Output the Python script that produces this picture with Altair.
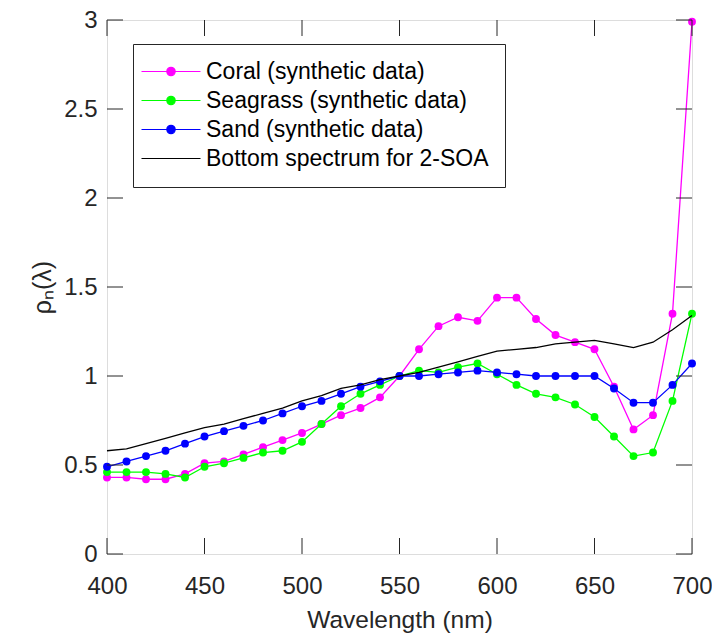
import altair as alt
import pandas as pd

wavelength = list(range(400, 701, 10))
coral = [0.43, 0.43, 0.42, 0.42, 0.45, 0.51, 0.52, 0.56, 0.60, 0.64, 0.68, 0.73, 0.78, 0.82, 0.88, 1.00,
         1.15, 1.28, 1.33, 1.31, 1.44, 1.44, 1.32, 1.23, 1.19, 1.15, 0.94, 0.70, 0.78, 1.35, 2.99]
seagrass = [0.46, 0.46, 0.46, 0.45, 0.43, 0.49, 0.51, 0.54, 0.57, 0.58, 0.63, 0.73, 0.83, 0.90, 0.95, 1.00,
            1.03, 1.02, 1.05, 1.07, 1.01, 0.95, 0.90, 0.88, 0.84, 0.77, 0.66, 0.55, 0.57, 0.86, 1.35]
sand = [0.49, 0.52, 0.55, 0.58, 0.62, 0.66, 0.69, 0.72, 0.75, 0.79, 0.83, 0.86, 0.90, 0.94, 0.97, 1.00,
        1.00, 1.01, 1.02, 1.03, 1.02, 1.01, 1.00, 1.00, 1.00, 1.00, 0.93, 0.85, 0.85, 0.95, 1.07]
bottom = [0.58, 0.59, 0.62, 0.65, 0.68, 0.71, 0.73, 0.76, 0.79, 0.82, 0.86, 0.89, 0.93, 0.95, 0.98, 1.00,
          1.02, 1.05, 1.08, 1.11, 1.14, 1.15, 1.16, 1.18, 1.19, 1.20, 1.18, 1.16, 1.19, 1.26, 1.34]

series_names = ["Coral (synthetic data)", "Seagrass (synthetic data)",
                "Sand (synthetic data)", "Bottom spectrum for 2-SOA"]
series_values = [coral, seagrass, sand, bottom]
series_markers = [True, True, True, False]
colors = ["#FF00FF", "#00FF00", "#0000FF", "#000000"]

x_ticks = [400, 450, 500, 550, 600, 650, 700]
y_ticks = [0, 0.5, 1, 1.5, 2, 2.5, 3]

FONT = "Liberation Sans"
AX = "#262626"
W, H = 585, 534
TICK = 16

rows = []
for name, vals in zip(series_names, series_values):
    for w, v in zip(wavelength, vals):
        rows.append({"wavelength": w, "rho": v, "series": name})
df = pd.DataFrame(rows)

xs = alt.Scale(domain=[400, 700], nice=False, zero=False)
ys = alt.Scale(domain=[0, 3], nice=False, zero=False)

xaxis = alt.Axis(values=x_ticks, title="Wavelength (nm)", grid=False, ticks=False, domain=False,
                 labelFont=FONT, labelFontSize=24, labelColor=AX, labelPadding=20,
                 labelFlush=False, labelOverlap=False, format="d",
                 titleFont=FONT, titleFontSize=24.5, titleFontWeight="normal", titleColor=AX,
                 titleY=73, titleBaseline="alphabetic")
yaxis = alt.Axis(values=y_ticks, title="ρₙ(λ)", grid=False, ticks=False, domain=False,
                 labelFont=FONT, labelFontSize=24, labelColor=AX, labelPadding=10,
                 labelFlush=False, labelOverlap=False, format="~g",
                 titleFont=FONT, titleFontSize=25, titleFontWeight="normal", titleColor=AX,
                 titleX=-65, titleY=H / 2, titleAngle=270, titleAlign="center", titleBaseline="middle")


def X():
    return alt.X("wavelength:Q", scale=xs, axis=xaxis)


def Y():
    return alt.Y("rho:Q", scale=ys, axis=yaxis)


layers = []
for name, col, mk in zip(series_names, colors, series_markers):
    sub = df[df["series"] == name]
    layers.append(alt.Chart(sub).mark_line(color=col, strokeWidth=1.3).encode(x=X(), y=Y()))
    if mk:
        layers.append(alt.Chart(sub).mark_circle(color=col, size=62, opacity=1).encode(x=X(), y=Y()))

# inward ticks on all four sides
xt = pd.DataFrame({"wavelength": x_ticks})
yt = pd.DataFrame({"rho": y_ticks})
tick_style = dict(color=AX, strokeWidth=1)
layers.append(alt.Chart(xt).mark_rule(**tick_style).encode(x=X(), y=alt.value(H), y2=alt.value(H - TICK)))
layers.append(alt.Chart(xt).mark_rule(**tick_style).encode(x=X(), y=alt.value(0), y2=alt.value(TICK)))
layers.append(alt.Chart(yt).mark_rule(**tick_style).encode(y=Y(), x=alt.value(0), x2=alt.value(TICK)))
layers.append(alt.Chart(yt).mark_rule(**tick_style).encode(y=Y(), x=alt.value(W), x2=alt.value(W - TICK)))


# legend symbols: line with a dot (custom path), or plain line
def circle_path(cx, r):
    k = 0.5523 * r
    return (f"M{cx + r},0C{cx + r},{k} {cx + k},{r} {cx},{r}"
            f"C{cx - k},{r} {cx - r},{k} {cx - r},0"
            f"C{cx - r},{-k} {cx - k},{-r} {cx},{-r}"
            f"C{cx + k},{-r} {cx + r},{-k} {cx + r},0Z")


L0, L1, DOT, R = -1.9, 4.0, 1.05, 0.42
line_path = f"M{L0},0L{L1},0"
dot_path = line_path + circle_path(DOT, R)
shape_range = [dot_path if m else line_path for m in series_markers]

leg = alt.Legend(orient="none", legendX=26, legendY=24, title=None, padding=16,
                 fillColor="white", strokeColor=AX, cornerRadius=0,
                 labelFont=FONT, labelFontSize=23, labelColor="black", labelLimit=600,
                 labelOffset=34, rowPadding=5, symbolSize=400, symbolStrokeWidth=1.2)

legend_layer = alt.Chart(df).mark_point(filled=True, opacity=1, size=400, strokeWidth=1.2).encode(
    x=X(), y=Y(),
    fill=alt.Fill("series:N", scale=alt.Scale(domain=series_names, range=colors), legend=leg),
    stroke=alt.Stroke("series:N", scale=alt.Scale(domain=series_names, range=colors), legend=leg),
    shape=alt.Shape("series:N", scale=alt.Scale(domain=series_names, range=shape_range), legend=leg),
).transform_filter("false")
layers.append(legend_layer)

chart = alt.layer(*layers).properties(
    width=W, height=H,
    autosize=alt.AutoSizeParams(type="none"),
    padding={"left": 99, "top": 12, "right": 20, "bottom": 84},
).configure_view(stroke=AX, strokeWidth=1.2).configure(background="white")

chart.save("out.html", embed_options={"renderer": "svg", "actions": False})
